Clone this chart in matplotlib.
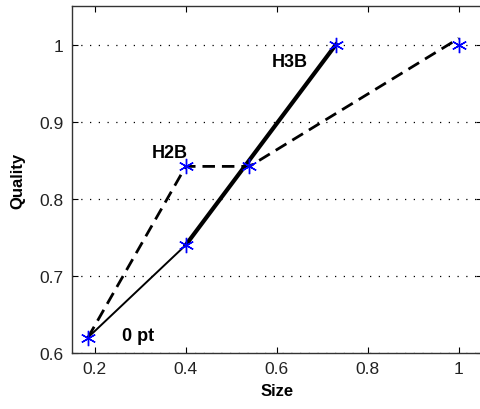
import matplotlib
matplotlib.use("Agg")
import matplotlib.pyplot as plt

# Data
h2b_x = [0.185, 0.40, 0.54, 1.00]
h2b_y = [0.62, 0.842, 0.842, 1.008]
h3b_thin_x = [0.185, 0.40]
h3b_thin_y = [0.62, 0.74]
h3b_thick_x = [0.40, 0.73]
h3b_thick_y = [0.74, 1.00]
star_x = [0.185, 0.40, 0.54, 0.40, 0.73, 1.00]
star_y = [0.62, 0.842, 0.842, 0.74, 1.00, 1.00]
xticks = [0.2, 0.4, 0.6, 0.8, 1.0]
xtick_labels = ["0.2", "0.4", "0.6", "0.8", "1"]
yticks = [0.6, 0.7, 0.8, 0.9, 1.0]
ytick_labels = ["0.6", "0.7", "0.8", "0.9", "1"]
annotations = [("H2B", 0.325, 0.86), ("H3B", 0.588, 0.978), ("0 pt", 0.26, 0.623)]

fig = plt.figure(figsize=(4.8, 4.1), dpi=100)
ax = fig.add_axes([72/480, 56/410, 409.5/480, 347/410])

for y in yticks:
    ax.axhline(y, color="black", lw=0.9, linestyle=(0, (1, 6)), zorder=1)

ax.plot(h2b_x, h2b_y, color="black", lw=2.0, linestyle=(0, (4.5, 2.5)), zorder=3)
ax.plot(h3b_thin_x, h3b_thin_y, color="black", lw=1.4, zorder=3)
ax.plot(h3b_thick_x, h3b_thick_y, color="black", lw=3.0, zorder=3)
ax.plot(star_x, star_y, linestyle="none", marker=(6, 2, 0), markersize=11,
        color="blue", mew=1.0, zorder=4)

for txt, x, y in annotations:
    ax.text(x, y, txt, fontsize=13, fontweight="bold", family="Liberation Sans",
            ha="left", va="center")

ax.set_xlim(0.15, 1.05)
ax.set_ylim(0.6, 1.05)
ax.set_xticks(xticks)
ax.set_xticklabels(xtick_labels, family="Liberation Sans", fontsize=12.5, color="#222222")
ax.set_yticks(yticks)
ax.set_yticklabels(ytick_labels, family="Liberation Sans", fontsize=12.5, color="#222222")
ax.tick_params(direction="in", top=True, right=True, length=4, width=0.8, pad=6)
for s in ax.spines.values():
    s.set_linewidth(1.0)
    s.set_color("#333333")

ax.set_xlabel("Size", fontsize=12, fontweight="bold", family="Liberation Sans", labelpad=5)
ax.set_ylabel("Quality", fontsize=12, fontweight="bold", family="Liberation Sans", labelpad=10)

fig.savefig("out.png", dpi=100)
